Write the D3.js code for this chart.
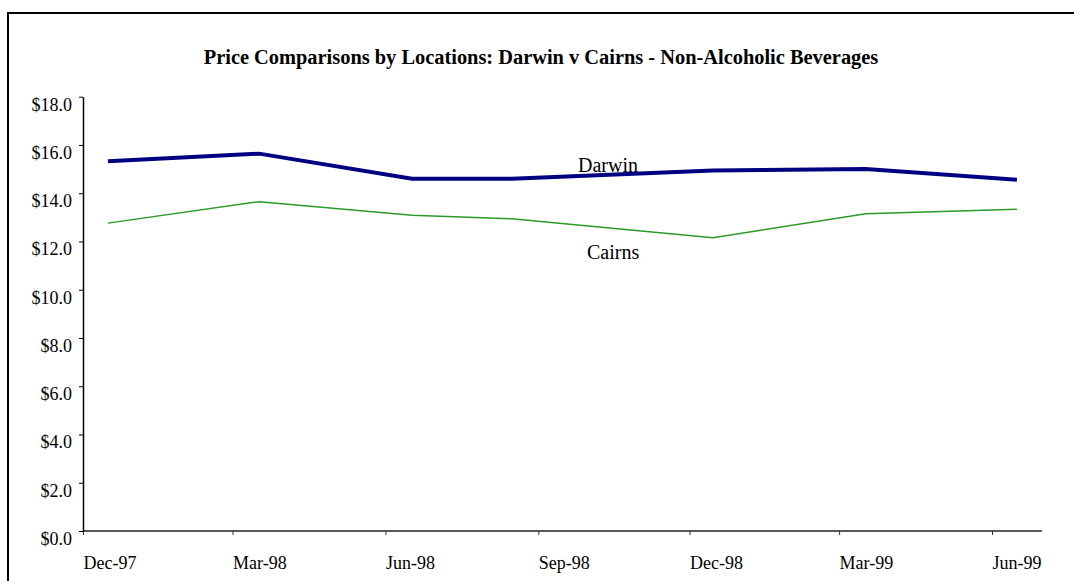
<!DOCTYPE html>
<html>
<head>
<meta charset="utf-8">
<script src="https://cdn.jsdelivr.net/npm/d3@7"></script>
<style>
  html, body { margin: 0; padding: 0; background: #fff; }
  svg { display: block; }
  text { font-family: "Liberation Serif", "Times New Roman", serif; fill: #000; }
</style>
</head>
<body>
<svg id="chart" width="1074" height="581"></svg>
<script>
// Survey dates (mid-month) and average basket prices, in dollars
const dates = ["1997-12-16", "1998-03-17", "1998-06-17", "1998-08-16", "1998-12-15", "1999-03-17", "1999-06-16"];
const darwin = [15.32, 15.64, 14.60, 14.60, 14.94, 15.00, 14.56];
const cairns = [12.76, 13.65, 13.09, 12.94, 12.15, 13.15, 13.34];
const yTicks = [0, 2, 4, 6, 8, 10, 12, 14, 16, 18];
const xTicks = ["1997-12-01", "1998-03-01", "1998-06-01", "1998-09-01", "1998-12-01", "1999-03-01", "1999-06-01"];
const title = "Price Comparisons by Locations: Darwin v Cairns - Non-Alcoholic Beverages";

const parse = d3.utcParse("%Y-%m-%d");
const svg = d3.select("#chart");

// outer chart frame (runs off the right and bottom edges)
svg.append("rect")
  .attr("x", 8).attr("y", 13)
  .attr("width", 1200).attr("height", 700)
  .attr("fill", "none").attr("stroke", "#000").attr("stroke-width", 2);

const x = d3.scaleUtc()
  .domain([parse("1997-12-01"), parse("1999-06-01")])
  .range([83, 992]);
const y = d3.scaleLinear().domain([0, 18]).range([531, 96.7]);

svg.append("text")
  .attr("x", 541).attr("y", 64)
  .attr("text-anchor", "middle")
  .attr("font-weight", "bold")
  .attr("font-size", 20.4)
  .text(title);

// x axis
const xEnd = x(parse("1999-07-01"));
const gx = svg.append("g").attr("transform", "translate(0,531)")
  .call(d3.axisBottom(x)
    .tickValues(xTicks.map(parse))
    .tickFormat(d3.utcFormat("%b-%y"))
    .tickSize(4).tickSizeOuter(0));
gx.select(".domain").remove();
gx.append("line").attr("x1", 83).attr("x2", xEnd)
  .attr("stroke", "#222").attr("stroke-width", 1.5);
gx.selectAll(".tick line").attr("stroke", "#333");
gx.selectAll(".tick text")
  .attr("text-anchor", "start")
  .attr("y", 38).attr("dy", 0)
  .attr("font-size", 18)
  .attr("font-family", "'Liberation Serif', 'Times New Roman', serif")
  .attr("fill", "#000");

// y axis
const gy = svg.append("g").attr("transform", "translate(83,0)")
  .call(d3.axisLeft(y)
    .tickValues(yTicks)
    .tickFormat(d => "$" + d.toFixed(1))
    .tickSize(4).tickSizeOuter(0));
gy.select(".domain").attr("stroke", "#000").attr("stroke-width", 1.5);
gy.selectAll(".tick line").attr("stroke", "#000");
gy.selectAll(".tick text")
  .attr("x", -11).attr("dy", 13.5)
  .attr("font-size", 18)
  .attr("font-family", "'Liberation Serif', 'Times New Roman', serif")
  .attr("fill", "#000");

const line = d3.line()
  .x((d, i) => x(parse(dates[i])))
  .y(d => y(d));

svg.append("path").datum(cairns)
  .attr("d", line)
  .attr("fill", "none")
  .attr("stroke", "#2a9a2a")
  .attr("stroke-width", 1.5);

svg.append("path").datum(darwin)
  .attr("d", line)
  .attr("fill", "none")
  .attr("stroke", "#000080")
  .attr("stroke-width", 4);

// series labels
svg.append("text").attr("x", 578).attr("y", 171.5)
  .attr("font-size", 20).text("Darwin");
svg.append("text").attr("x", 587).attr("y", 258.5)
  .attr("font-size", 20).text("Cairns");
</script>
</body>
</html>
